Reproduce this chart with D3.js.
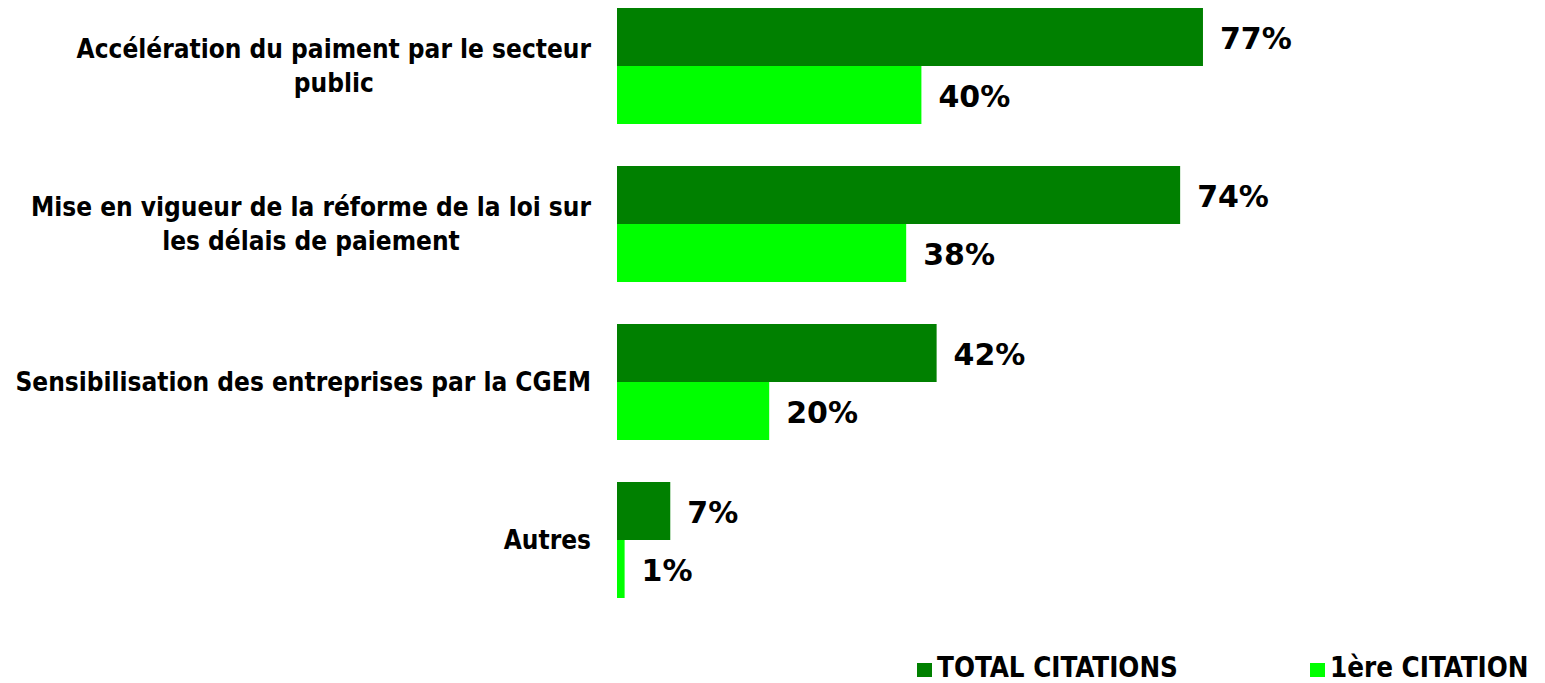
<!DOCTYPE html>
<html>
<head>
<meta charset="utf-8">
<script src="https://cdn.jsdelivr.net/npm/d3@7"></script>
<style>
  body { margin: 0; background: #fff; }
  .cat { font-family: "DejaVu Sans Condensed", "DejaVu Sans", sans-serif; font-stretch: condensed; font-weight: bold; font-size: 26px; fill: #000; }
  .val { font-family: "DejaVu Sans", Verdana, sans-serif; font-weight: bold; font-size: 30px; fill: #000; }
  .leg { font-family: "DejaVu Sans Condensed", "DejaVu Sans", sans-serif; font-stretch: condensed; font-weight: bold; font-size: 27.5px; fill: #000; }
</style>
</head>
<body>
<div id="chart"></div>
<script>
var categories = [
  ["Accélération du paiment par le secteur", "public"],
  ["Mise en vigueur de la réforme de la loi sur", "les délais de paiement"],
  ["Sensibilisation des entreprises par la CGEM"],
  ["Autres"]
];
var series = ["TOTAL CITATIONS", "1ère CITATION"];
var totalValues = [77, 74, 42, 7];
var firstValues = [40, 38, 20, 1];
var colors = ["#008000", "#00ff00"];

var svgWidth = 1545;
var svgHeight = 683;

var svg = d3.select("#chart")
    .append("svg")
    .attr("width", svgWidth)
    .attr("height", svgHeight);

var rows = categories.map(function(c, i){
  return { key: i, lines: c, values: [totalValues[i], firstValues[i]] };
});

var xScale = d3.scaleLinear()
    .domain([0, 100])
    .range([617, 617 + 761]);

var yScale = d3.scaleBand()
    .domain(rows.map(d => d.key))
    .range([8, 598])
    .paddingInner(42 / 158)
    .paddingOuter(0);

var ySub = d3.scaleBand()
    .domain(series)
    .range([0, yScale.bandwidth()]);

var group = svg.selectAll("g.group")
    .data(rows)
    .enter()
    .append("g")
    .attr("class", "group")
    .attr("transform", d => `translate(0,${yScale(d.key)})`);

var bar = group.selectAll("g.bar")
    .data(d => d.values.map((v, j) => ({ s: series[j], v: v, j: j })))
    .enter()
    .append("g");

bar.append("rect")
    .attr("x", xScale(0))
    .attr("y", d => ySub(d.s))
    .attr("width", d => xScale(d.v) - xScale(0))
    .attr("height", ySub.bandwidth())
    .attr("fill", d => colors[d.j]);

bar.append("text")
    .attr("class", "val")
    .attr("x", d => xScale(d.v) + 17)
    .attr("y", d => ySub(d.s) + ySub.bandwidth() / 2 + 1)
    .attr("dy", "0.36em")
    .text(d => d.v + "%");

// category labels: block right-aligned at 591, lines centred inside the block
var lineH = 34;
group.each(function(d){
  var g = d3.select(this);
  var n = d.lines.length;
  var t = g.append("text")
      .attr("class", "cat")
      .attr("text-anchor", "middle");
  d.lines.forEach(function(line, k){
    t.append("tspan")
      .attr("y", yScale.bandwidth() / 2 + (k - (n - 1) / 2) * lineH)
      .attr("dy", "0.36em")
      .text(line);
  });
  var maxW = 0;
  t.selectAll("tspan").each(function(){ maxW = Math.max(maxW, this.getComputedTextLength()); });
  t.selectAll("tspan").attr("x", 591 - maxW / 2);
});

// legend
var legendX = [917, 1310];
var legend = svg.selectAll("g.legend")
    .data(series)
    .enter()
    .append("g")
    .attr("transform", (d, i) => `translate(${legendX[i]},663)`);

legend.append("rect")
    .attr("width", 15)
    .attr("height", 14)
    .attr("fill", (d, i) => colors[i]);

legend.append("text")
    .attr("class", "leg")
    .attr("x", 20)
    .attr("y", 14)
    .text(d => d);
</script>
</body>
</html>
